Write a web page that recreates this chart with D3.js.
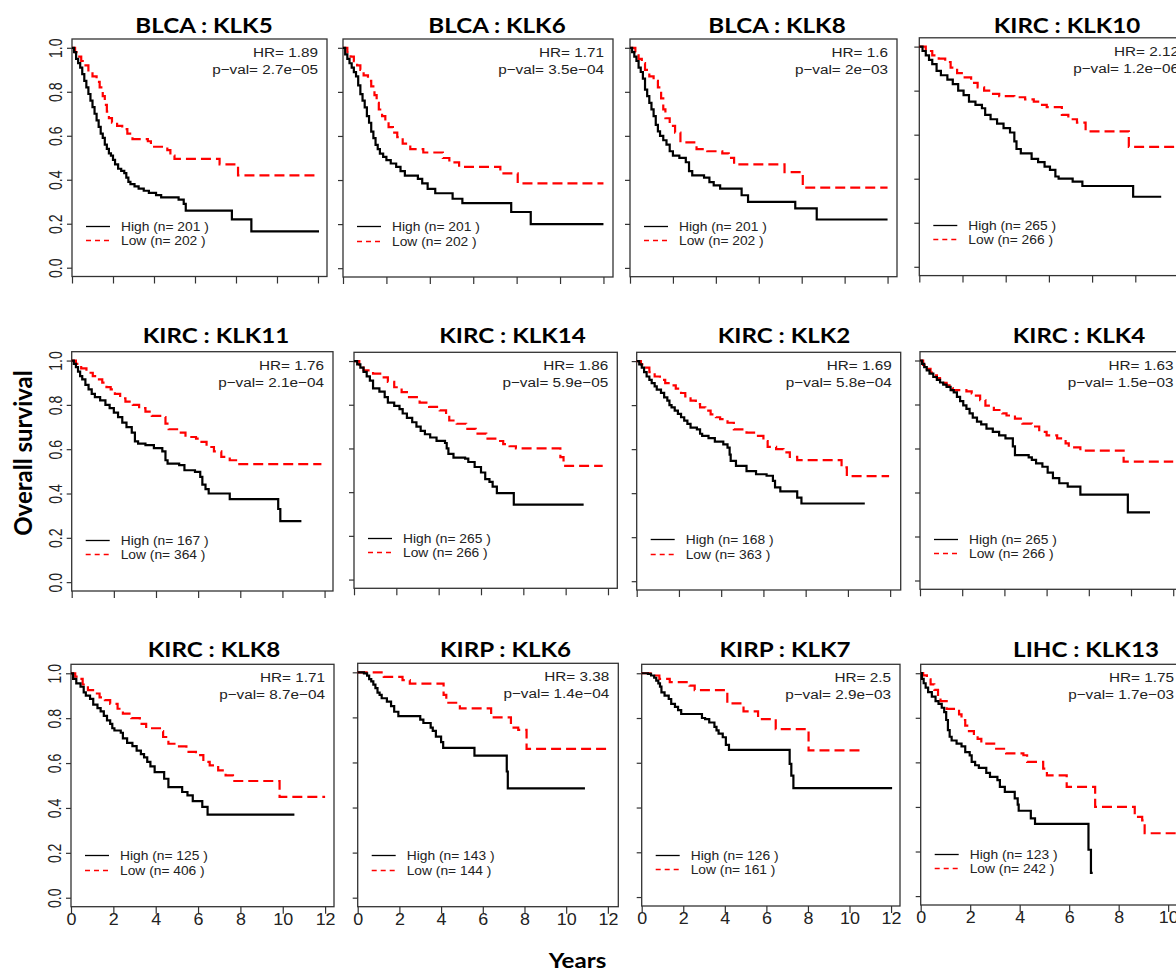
<!DOCTYPE html>
<html>
<head>
<meta charset="utf-8">
<script src="https://cdn.jsdelivr.net/npm/d3@7"></script>
<style>
  body { margin: 0; background: #fff; }
  svg { display: block; }
</style>
</head>
<body>
<svg id="chart"></svg>
<script>
// ---------------- data ----------------
const panelTitles = ['BLCA : KLK5', 'BLCA : KLK6', 'BLCA : KLK8', 'KIRC : KLK10',
                     'KIRC : KLK11', 'KIRC : KLK14', 'KIRC : KLK2', 'KIRC : KLK4',
                     'KIRC : KLK8', 'KIRP : KLK6', 'KIRP : KLK7', 'LIHC : KLK13'];
const hrValues = ['1.89', '1.71', '1.6', '2.12', '1.76', '1.86', '1.69', '1.63', '1.71', '3.38', '2.5', '1.75'];
const pValues = ['2.7e-05', '3.5e-04', '2e-03', '1.2e-06', '2.1e-04', '5.9e-05',
                 '5.8e-04', '1.5e-03', '8.7e-04', '1.4e-04', '2.9e-03', '1.7e-03'];
const nHigh = [201, 201, 201, 265, 167, 265, 168, 265, 125, 143, 126, 123];
const nLow = [202, 202, 202, 266, 364, 266, 363, 266, 406, 144, 161, 242];
const xTicks = [0, 2, 4, 6, 8, 10, 12];
const yTicks = [0, 0.2, 0.4, 0.6, 0.8, 1.0];

// survival curves: [years, survival] at each step
const blcaKlk5High = [[0,1],[0.1,0.98],[0.2,0.95],[0.3,0.93],[0.4,0.91],[0.5,0.88],[0.6,0.85],[0.7,0.82],[0.8,0.79],[0.9,0.76],[1.0,0.73],[1.1,0.70],[1.2,0.67],[1.3,0.64],[1.4,0.61],[1.5,0.59],[1.6,0.56],[1.7,0.54],[1.8,0.52],[1.9,0.51],[2.0,0.49],[2.1,0.47],[2.25,0.45],[2.4,0.44],[2.55,0.43],[2.65,0.41],[2.75,0.39],[2.85,0.38],[3.05,0.37],[3.25,0.36],[3.5,0.35],[3.75,0.34],[4.1,0.33],[4.35,0.32],[5.2,0.31],[5.45,0.29],[5.55,0.26],[7.8,0.22],[8.75,0.165],[12.05,0.165]];
const blcaKlk5Low = [[0,1],[0.15,0.98],[0.3,0.96],[0.45,0.94],[0.6,0.92],[0.8,0.89],[1.0,0.87],[1.2,0.845],[1.35,0.82],[1.5,0.78],[1.6,0.74],[1.7,0.71],[1.8,0.68],[1.95,0.66],[2.2,0.645],[2.45,0.63],[2.7,0.61],[2.95,0.585],[3.7,0.575],[3.85,0.55],[4.65,0.535],[4.8,0.51],[5.0,0.495],[7.2,0.47],[8.1,0.42],[11.9,0.42]];
const blcaKlk6High = [[0,1],[0.1,0.97],[0.2,0.95],[0.3,0.93],[0.4,0.91],[0.5,0.89],[0.6,0.87],[0.7,0.83],[0.8,0.79],[0.9,0.76],[1.0,0.73],[1.1,0.69],[1.2,0.66],[1.3,0.62],[1.4,0.59],[1.5,0.56],[1.6,0.54],[1.7,0.52],[1.85,0.505],[2.0,0.49],[2.2,0.475],[2.45,0.46],[2.65,0.44],[2.85,0.42],[3.45,0.405],[3.65,0.385],[3.9,0.36],[4.25,0.34],[5.05,0.315],[5.5,0.295],[7.75,0.255],[8.65,0.2],[12,0.2]];
const blcaKlk6Low = [[0,1],[0.2,0.98],[0.35,0.96],[0.5,0.94],[0.65,0.92],[0.8,0.9],[0.95,0.875],[1.15,0.85],[1.3,0.825],[1.45,0.785],[1.55,0.75],[1.65,0.72],[1.8,0.69],[1.95,0.665],[2.1,0.64],[2.3,0.615],[2.5,0.595],[2.75,0.565],[3.1,0.54],[3.7,0.525],[4.6,0.5],[4.9,0.48],[5.35,0.46],[7.25,0.43],[8.05,0.385],[12,0.385]];
const blcaKlk8High = [[0,1],[0.1,0.98],[0.2,0.96],[0.3,0.94],[0.4,0.91],[0.5,0.89],[0.6,0.86],[0.7,0.81],[0.8,0.78],[0.9,0.75],[1.0,0.72],[1.1,0.69],[1.2,0.65],[1.3,0.62],[1.4,0.6],[1.55,0.58],[1.7,0.56],[1.85,0.53],[2.0,0.51],[2.3,0.5],[2.6,0.48],[2.75,0.44],[2.9,0.42],[3.45,0.41],[3.7,0.39],[3.9,0.375],[4.2,0.36],[5.2,0.33],[5.5,0.3],[7.7,0.27],[8.7,0.22],[12,0.22]];
const blcaKlk8Low = [[0,1],[0.25,0.98],[0.4,0.95],[0.55,0.93],[0.7,0.9],[0.9,0.87],[1.1,0.85],[1.3,0.82],[1.45,0.77],[1.55,0.72],[1.65,0.68],[1.85,0.645],[2.1,0.615],[2.35,0.57],[3.1,0.54],[3.6,0.53],[4.3,0.52],[4.6,0.5],[4.85,0.47],[7.2,0.435],[8.05,0.365],[12,0.365]];
const kircKlk10High = [[0,1],[0.15,0.98],[0.3,0.96],[0.45,0.94],[0.6,0.92],[0.8,0.89],[1.0,0.87],[1.3,0.85],[1.55,0.83],[1.8,0.8],[2.05,0.78],[2.3,0.75],[2.6,0.735],[2.9,0.72],[3.05,0.69],[3.3,0.67],[3.6,0.65],[3.9,0.63],[4.2,0.61],[4.4,0.57],[4.5,0.535],[4.7,0.515],[5.2,0.49],[5.5,0.475],[5.8,0.455],[6.05,0.44],[6.3,0.41],[6.45,0.4],[7.1,0.387],[7.55,0.367],[9.9,0.318],[11.2,0.318]];
const kircKlk10Low = [[0,1],[0.3,0.98],[0.6,0.96],[0.9,0.945],[1.2,0.93],[1.45,0.905],[1.75,0.88],[2.1,0.86],[2.4,0.835],[2.7,0.815],[3.0,0.8],[3.3,0.785],[3.7,0.775],[4.4,0.77],[4.9,0.76],[5.3,0.75],[5.6,0.735],[5.9,0.725],[6.6,0.69],[6.9,0.67],[7.3,0.655],[7.7,0.615],[9.7,0.545],[12,0.545]];
const kircKlk11High = [[0,1],[0.1,0.985],[0.2,0.97],[0.3,0.95],[0.4,0.93],[0.5,0.915],[0.65,0.89],[0.8,0.87],[0.95,0.85],[1.1,0.835],[1.35,0.82],[1.6,0.8],[1.8,0.785],[2.0,0.765],[2.2,0.745],[2.4,0.72],[2.6,0.7],[2.85,0.675],[3.0,0.635],[3.15,0.625],[3.5,0.618],[3.9,0.605],[4.3,0.59],[4.45,0.55],[4.55,0.535],[5.1,0.528],[5.35,0.505],[5.85,0.498],[6.1,0.475],[6.2,0.44],[6.35,0.42],[6.5,0.4],[7.5,0.375],[9.8,0.33],[9.9,0.275],[10.9,0.275]];
const kircKlk11Low = [[0,1],[0.2,0.985],[0.45,0.965],[0.7,0.945],[1.0,0.93],[1.2,0.915],[1.45,0.9],[1.65,0.88],[1.85,0.87],[2.05,0.85],[2.3,0.83],[2.55,0.815],[2.9,0.8],[3.2,0.785],[3.5,0.77],[3.8,0.75],[4.3,0.745],[4.45,0.715],[4.6,0.69],[5.0,0.675],[5.4,0.655],[5.9,0.648],[6.1,0.633],[6.4,0.61],[6.75,0.59],[7.1,0.565],[7.5,0.55],[7.8,0.533],[11.85,0.533]];
const kircKlk14High = [[0,1],[0.15,0.985],[0.3,0.97],[0.45,0.95],[0.6,0.93],[0.75,0.91],[0.9,0.875],[1.2,0.86],[1.45,0.835],[1.6,0.81],[1.9,0.795],[2.15,0.78],[2.3,0.76],[2.5,0.74],[2.75,0.72],[2.95,0.7],[3.15,0.68],[3.35,0.665],[3.6,0.65],[3.9,0.635],[4.3,0.625],[4.38,0.6],[4.46,0.575],[4.7,0.558],[5.25,0.553],[5.4,0.538],[5.7,0.515],[6.0,0.49],[6.2,0.46],[6.4,0.447],[6.55,0.425],[6.75,0.396],[7.55,0.343],[10.85,0.343]];
const kircKlk14Low = [[0,1],[0.25,0.975],[0.45,0.957],[0.9,0.942],[1.3,0.925],[1.6,0.905],[1.9,0.88],[2.25,0.858],[2.6,0.835],[3.1,0.81],[3.55,0.79],[4.05,0.774],[4.35,0.75],[4.5,0.728],[4.85,0.713],[5.3,0.69],[5.75,0.668],[6.25,0.645],[6.75,0.634],[7.05,0.62],[7.35,0.61],[7.65,0.6],[9.75,0.56],[9.9,0.52],[11.75,0.52]];
const kircKlk2High = [[0,1],[0.12,0.985],[0.24,0.97],[0.35,0.95],[0.47,0.93],[0.6,0.915],[0.71,0.9],[0.85,0.885],[0.95,0.87],[1.15,0.856],[1.3,0.835],[1.45,0.82],[1.55,0.8],[1.65,0.79],[1.8,0.775],[1.95,0.76],[2.1,0.745],[2.25,0.73],[2.4,0.715],[2.55,0.698],[2.85,0.69],[3.0,0.67],[3.1,0.66],[3.4,0.65],[3.7,0.634],[4.1,0.622],[4.3,0.607],[4.4,0.575],[4.45,0.547],[4.7,0.524],[5.2,0.5],[5.65,0.486],[6.15,0.479],[6.45,0.456],[6.55,0.426],[6.8,0.408],[7.6,0.38],[7.8,0.353],[10.8,0.353]];
const kircKlk2Low = [[0,1],[0.2,0.985],[0.35,0.97],[0.6,0.95],[0.85,0.93],[1.1,0.915],[1.35,0.9],[1.6,0.89],[1.85,0.875],[2.1,0.855],[2.3,0.84],[2.55,0.82],[2.8,0.805],[3.0,0.79],[3.25,0.775],[3.5,0.758],[3.75,0.745],[3.95,0.736],[4.3,0.72],[4.6,0.69],[5.2,0.675],[5.65,0.66],[6.0,0.637],[6.2,0.61],[6.6,0.6],[6.95,0.585],[7.25,0.565],[7.6,0.55],[9.7,0.517],[9.95,0.477],[11.95,0.477]];
const kircKlk4High = [[0,1],[0.1,0.985],[0.2,0.97],[0.32,0.955],[0.45,0.94],[0.63,0.925],[0.8,0.912],[0.95,0.9],[1.1,0.89],[1.26,0.88],[1.45,0.865],[1.6,0.855],[1.75,0.835],[1.9,0.815],[2.05,0.796],[2.2,0.78],[2.35,0.76],[2.5,0.74],[2.7,0.722],[2.9,0.71],[3.15,0.69],[3.45,0.676],[3.75,0.66],[4.05,0.646],[4.4,0.61],[4.5,0.57],[5.15,0.56],[5.3,0.548],[5.5,0.532],[5.8,0.517],[6.05,0.49],[6.3,0.465],[6.6,0.442],[7.0,0.427],[7.6,0.39],[9.85,0.31],[10.9,0.31]];
const kircKlk4Low = [[0,1],[0.15,0.98],[0.32,0.962],[0.5,0.945],[0.63,0.932],[0.8,0.92],[0.95,0.91],[1.1,0.898],[1.26,0.887],[1.4,0.875],[1.55,0.865],[2.2,0.86],[2.45,0.85],[2.65,0.84],[2.85,0.82],[3.1,0.795],[3.5,0.775],[3.9,0.76],[4.1,0.75],[4.5,0.736],[4.85,0.713],[5.3,0.7],[5.65,0.676],[6.0,0.66],[6.5,0.646],[6.9,0.623],[7.05,0.605],[7.6,0.59],[9.65,0.54],[12,0.54]];
const kircKlk8High = [[0,1],[0.1,0.975],[0.25,0.955],[0.45,0.94],[0.6,0.915],[0.7,0.9],[0.9,0.886],[1.05,0.86],[1.25,0.845],[1.4,0.83],[1.55,0.81],[1.7,0.79],[1.85,0.775],[1.95,0.755],[2.05,0.745],[2.35,0.735],[2.45,0.71],[2.65,0.69],[2.9,0.675],[3.1,0.655],[3.3,0.64],[3.45,0.625],[3.6,0.605],[3.75,0.585],[3.95,0.56],[4.4,0.53],[4.6,0.493],[5.25,0.471],[5.5,0.456],[5.75,0.43],[6.2,0.405],[6.45,0.37],[10.55,0.37]];
const kircKlk8Low = [[0,1],[0.2,0.985],[0.35,0.975],[0.55,0.95],[0.8,0.925],[1.1,0.91],[1.35,0.893],[1.6,0.88],[1.85,0.864],[2.2,0.842],[2.45,0.82],[2.85,0.8],[3.25,0.775],[3.55,0.755],[4.2,0.742],[4.35,0.716],[4.6,0.686],[5.1,0.674],[5.45,0.65],[5.9,0.635],[6.25,0.605],[6.55,0.59],[6.95,0.567],[7.3,0.545],[7.65,0.52],[9.85,0.449],[12,0.449]];
const kirpKlk6High = [[0,1],[0.3,0.995],[0.45,0.985],[0.55,0.97],[0.65,0.96],[0.75,0.945],[0.85,0.93],[0.95,0.91],[1.05,0.9],[1.15,0.885],[1.4,0.87],[1.6,0.85],[1.75,0.825],[1.95,0.806],[3.0,0.79],[3.15,0.775],[3.5,0.755],[3.6,0.74],[3.75,0.715],[4.0,0.69],[4.1,0.665],[5.6,0.63],[7.15,0.56],[7.2,0.485],[10.9,0.485]];
const kirpKlk6Low = [[0,1],[1.25,0.98],[2.15,0.965],[2.5,0.95],[4.12,0.9],[4.25,0.865],[4.9,0.84],[6.4,0.8],[7.35,0.755],[7.7,0.745],[8.1,0.66],[12,0.66]];
const kirpKlk7High = [[0,1],[0.3,0.997],[0.45,0.99],[0.6,0.98],[0.7,0.967],[0.8,0.955],[0.88,0.94],[0.95,0.915],[1.1,0.9],[1.3,0.885],[1.42,0.863],[1.6,0.85],[1.75,0.835],[1.9,0.818],[2.9,0.8],[3.05,0.795],[3.25,0.78],[3.5,0.76],[3.6,0.745],[3.7,0.73],[3.9,0.714],[4.05,0.68],[4.2,0.658],[7.12,0.595],[7.2,0.543],[7.3,0.487],[12.05,0.487]];
const kirpKlk7Low = [[0,1],[0.55,0.99],[0.85,0.975],[1.35,0.96],[2.3,0.945],[2.55,0.925],[4.12,0.865],[4.9,0.83],[5.6,0.795],[6.45,0.75],[8.03,0.655],[10.5,0.655]];
const lihcKlk13High = [[0,1],[0.05,0.975],[0.12,0.955],[0.2,0.935],[0.3,0.915],[0.45,0.895],[0.6,0.875],[0.72,0.862],[0.85,0.845],[0.95,0.825],[1.03,0.79],[1.1,0.745],[1.17,0.715],[1.25,0.698],[1.45,0.684],[1.65,0.672],[1.8,0.646],[1.98,0.631],[2.06,0.602],[2.2,0.587],[2.35,0.575],[2.65,0.553],[2.8,0.535],[3.1,0.52],[3.2,0.49],[3.4,0.468],[3.8,0.438],[3.92,0.41],[3.96,0.383],[4.45,0.349],[4.62,0.324],[6.78,0.208],[6.88,0.104],[6.95,0.104]];
const lihcKlk13Low = [[0,1],[0.1,0.99],[0.25,0.973],[0.4,0.95],[0.55,0.925],[0.7,0.895],[0.8,0.875],[1.05,0.84],[1.55,0.815],[1.65,0.79],[1.8,0.765],[1.95,0.74],[2.15,0.72],[2.3,0.705],[2.45,0.684],[3.05,0.661],[3.45,0.64],[4.15,0.632],[4.3,0.602],[4.95,0.572],[5.1,0.542],[5.9,0.49],[7.05,0.4],[8.65,0.355],[8.95,0.34],[9.05,0.282],[10.5,0.282]];

const highCurves = [blcaKlk5High, blcaKlk6High, blcaKlk8High, kircKlk10High,
                    kircKlk11High, kircKlk14High, kircKlk2High, kircKlk4High,
                    kircKlk8High, kirpKlk6High, kirpKlk7High, lihcKlk13High];
const lowCurves = [blcaKlk5Low, blcaKlk6Low, blcaKlk8Low, kircKlk10Low,
                   kircKlk11Low, kircKlk14Low, kircKlk2Low, kircKlk4Low,
                   kircKlk8Low, kirpKlk6Low, kirpKlk7Low, lihcKlk13Low];

// ---------------- layout (pixel boxes of the pasted panels) ----------------
// box = [left, top, right, bottom], title = [centre x, baseline y]
const layout = [
    { box: [72, 39, 327, 276.5],     title: [204, 33],      xmax: 12.44 },
    { box: [343, 39, 613, 277],      title: [497, 33],      xmax: 12.44 },
    { box: [630, 39, 897, 276.7],    title: [777, 33],      xmax: 12.44 },
    { box: [919.3, 37.8, 1188, 275.6], title: [1067, 33],   xmax: 12.44 },
    { box: [71.7, 351.7, 333, 591],  title: [216, 342.7],   xmax: 12.40 },
    { box: [354, 352.3, 617.3, 588.3], title: [512.5, 342.7], xmax: 12.44 },
    { box: [636.7, 352.3, 900.7, 590], title: [784, 342.7], xmax: 12.5 },
    { box: [920, 351.7, 1182.5, 589.3], title: [1079, 342.7], xmax: 12.44 },
    { box: [71, 664.3, 334, 906.7],  title: [214, 656.7],   xmax: 12.42 },
    { box: [357.7, 663.3, 618.3, 906.7], title: [505.5, 656.7], xmax: 12.5 },
    { box: [641.7, 664.3, 900, 906], title: [785, 656.7],   xmax: 12.43 },
    { box: [920.7, 664.3, 1183, 905], title: [1086, 656.7], xmax: 10.6 }
];

const WIDTH = 1176;
const HEIGHT = 973;
const SANS = '"Liberation Sans", Arial, sans-serif';
const TITLE_FONT = 'Lato, "Open Sans", sans-serif';

class SurvivalGrid {
    constructor(svgSelector) {
        this.svg = d3.select(svgSelector)
            .attr('width', WIDTH)
            .attr('height', HEIGHT);
        this.g = this.svg.append('g');
    }

    render() {
        layout.forEach((panel, i) => this.drawPanel(panel, i));

        // shared axis titles
        this.g.append('text')
            .attr('transform', 'translate(32,453) rotate(-90)')
            .attr('text-anchor', 'middle')
            .attr('font-family', TITLE_FONT)
            .attr('font-weight', 'bold')
            .attr('font-size', '24px')
            .attr('fill', '#000')
            .text('Overall survival');

        this.g.append('text')
            .attr('transform', 'translate(577.5,968) scale(1.15,1)')
            .attr('text-anchor', 'middle')
            .attr('font-family', TITLE_FONT)
            .attr('font-weight', 'bold')
            .attr('font-size', '21px')
            .attr('fill', '#000')
            .text('Years');
    }

    drawPanel(panel, i) {
        const [left, top, right, bottom] = panel.box;
        const col = i % 4;
        const row = Math.floor(i / 4);

        const x = d3.scaleLinear().domain([0, panel.xmax]).range([left, right]);
        const y = d3.scaleLinear().domain([-0.04, 1.04]).range([bottom, top]);

        const pg = this.g.append('g').attr('class', 'panel');

        // Title
        pg.append('text')
            .attr('transform', `translate(${panel.title[0]},${panel.title[1]}) scale(1.15,1)`)
            .attr('text-anchor', 'middle')
            .attr('font-family', TITLE_FONT)
            .attr('font-weight', 'bold')
            .attr('font-size', '21px')
            .attr('fill', '#000')
            .text(panelTitles[i]);

        // X axis (labels only on bottom row)
        const xAxis = pg.append('g')
            .attr('transform', `translate(0,${bottom})`)
            .call(d3.axisBottom(x)
                .tickValues(xTicks.filter(t => t <= panel.xmax))
                .tickSize(7)
                .tickPadding(2)
                .tickFormat(row === 2 ? d3.format('d') : ''));
        xAxis.select('.domain').remove();
        xAxis.selectAll('line').attr('stroke', '#333').attr('stroke-width', 1.2);
        xAxis.selectAll('text')
            .attr('font-family', SANS)
            .attr('font-size', '16px')
            .attr('fill', '#222')
            .attr('y', 18.5)
            .attr('dy', 0)
            .attr('transform', 'scale(1.12,1)');

        // Y axis (labels only on first column, rotated like R's las=0)
        const yAxis = pg.append('g')
            .attr('transform', `translate(${left},0)`)
            .call(d3.axisLeft(y)
                .tickValues(yTicks)
                .tickSize(5)
                .tickFormat(col === 0 ? d3.format('.1f') : ''));
        yAxis.select('.domain').remove();
        yAxis.selectAll('line').attr('stroke', '#333').attr('stroke-width', 1.2);
        yAxis.selectAll('text')
            .attr('x', 0)
            .attr('dy', 0)
            .attr('text-anchor', 'middle')
            .attr('font-family', SANS)
            .attr('font-size', '19px')
            .attr('fill', '#222')
            .attr('transform', 'translate(-10,0) rotate(-90) scale(0.74,1)');

        // Plot box
        pg.append('rect')
            .attr('x', left)
            .attr('y', top)
            .attr('width', right - left)
            .attr('height', bottom - top)
            .attr('fill', 'none')
            .attr('stroke', '#333')
            .attr('stroke-width', 1.3);

        // Kaplan-Meier curves
        const line = d3.line()
            .x(d => x(d[0]))
            .y(d => y(d[1]))
            .curve(d3.curveStepAfter);

        pg.append('path')
            .datum(lowCurves[i])
            .attr('d', line)
            .attr('fill', 'none')
            .attr('stroke', '#ff0000')
            .attr('stroke-width', 2.2)
            .attr('stroke-dasharray', '10,5');

        pg.append('path')
            .datum(highCurves[i])
            .attr('d', line)
            .attr('fill', 'none')
            .attr('stroke', '#000')
            .attr('stroke-width', 2.2);

        // HR / p-value
        const statX = right - 9;
        pg.append('text')
            .attr('transform', `translate(${statX},${top + 18}) scale(1.15,1)`)
            .attr('text-anchor', 'end')
            .attr('font-family', SANS)
            .attr('font-size', '13.3px')
            .attr('fill', '#222')
            .text(`HR= ${hrValues[i]}`);
        pg.append('text')
            .attr('transform', `translate(${statX},${top + 35}) scale(1.15,1)`)
            .attr('text-anchor', 'end')
            .attr('font-family', SANS)
            .attr('font-size', '13.3px')
            .attr('fill', '#222')
            .text(`p\u2212val= ${pValues[i].replace(/-/g, '\u2212')}`);

        // Legend
        const legend = [
            { label: `High (n= ${nHigh[i]} )`, color: '#000', dash: null, yv: 0.19 },
            { label: `Low (n= ${nLow[i]} )`, color: '#ff0000', dash: '5,4', yv: 0.125 }
        ];
        legend.forEach(item => {
            const ly = Math.round(y(item.yv)) + 0.5;
            pg.append('line')
                .attr('x1', left + 14)
                .attr('x2', left + 38)
                .attr('y1', ly)
                .attr('y2', ly)
                .attr('stroke', item.color)
                .attr('stroke-width', 1.3)
                .attr('stroke-dasharray', item.dash);
            pg.append('text')
                .attr('transform', `translate(${left + 49},${ly + 4.5}) scale(1.15,1)`)
                .attr('font-family', SANS)
                .attr('font-size', '12px')
                .attr('fill', '#222')
                .text(item.label);
        });
    }
}

const grid = new SurvivalGrid('#chart');
grid.render();
</script>
</body>
</html>
